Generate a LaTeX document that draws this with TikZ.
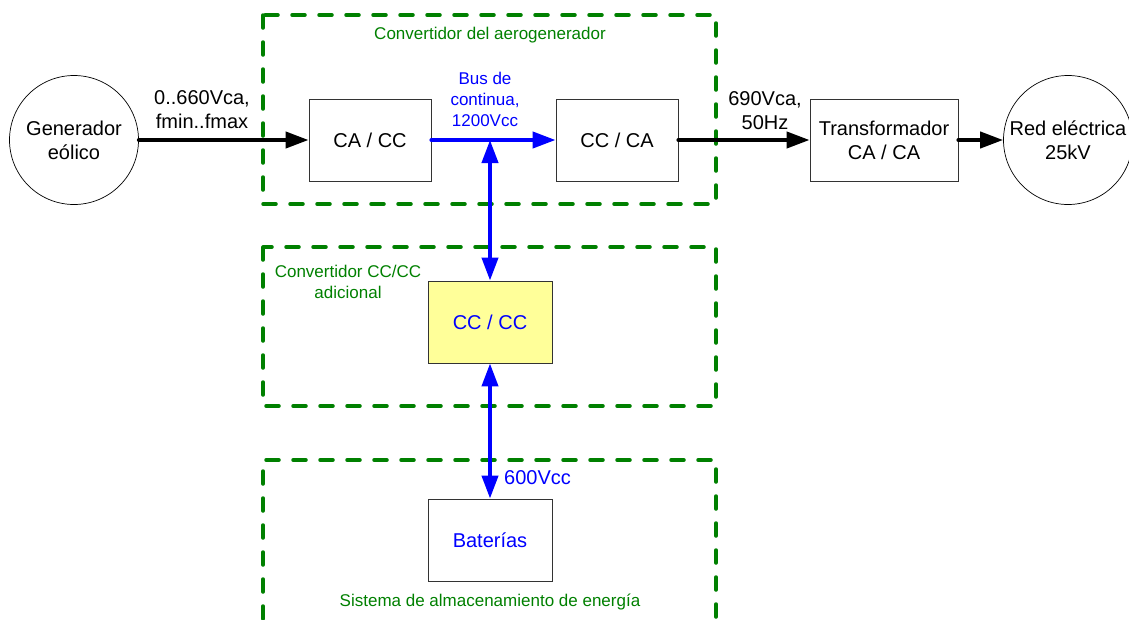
\documentclass[tikz,border=0pt]{standalone}
\usepackage{fontspec}
\setmainfont{Liberation Sans}
\usepackage{tikz}
\usetikzlibrary{arrows.meta,positioning}
\definecolor{grupo}{RGB}{0,128,0}
\definecolor{amarillo}{RGB}{255,255,153}

\begin{document}
\begin{tikzpicture}[x=1pt,y=-1pt,line cap=round,
  every node/.style={font=\fontsize{20}{24}\selectfont,align=center},
  bloque/.style={draw=black!80,line width=0.8pt,minimum width=122pt,minimum height=82pt,inner sep=0pt},
  fuente/.style={draw,circle,line width=0.7pt,minimum size=129pt,inner sep=0pt},
  zona/.style={draw=grupo,line width=3.5pt,dash pattern=on 13pt off 14pt},
  zonatxt/.style={text=grupo,font=\fontsize{17}{21}\selectfont},
  flujo/.style={line width=4pt,-{Triangle[length=23pt,width=16pt]}},
  bus/.style={line width=4pt,blue,{Triangle[length=23pt,width=16pt]}-{Triangle[length=23pt,width=16pt]}}]
  \useasboundingbox (0,0) rectangle (1129,619);
  % zonas
  \draw[zona] (263,15) rectangle (716,204);
  \draw[zona] (263,247) rectangle (716,406);
  \draw[zona] (263,619) -- (263,460) -- (716,460) -- (716,619);
  \node[zonatxt] (tconv) at (490,35) {Convertidor del aerogenerador};
  \node[zonatxt] (tdcdc) at (348,282) {Convertidor CC/CC\\adicional};
  \node[zonatxt] (talm) at (490,602) {Sistema de almacenamiento de energía};
  % bloques
  \node[fuente] (gen) at (74,140) {Generador\\eólico};
  \node[bloque] (cacc) at (370,140) {CA / CC};
  \node[bloque] (ccca) at (617,140) {CC / CA};
  \node[bloque,minimum width=148pt] (trafo) at (884,140) {Transformador\\CA / CA};
  \node[fuente] (red) at (1068,140) {Red eléctrica\\25kV};
  \node[bloque,fill=amarillo,text=blue,minimum width=124pt] (cccc) at (490,322) {CC / CC};
  \node[bloque,text=blue,minimum width=124pt] (bat) at (490,540) {Baterías};
  % conexiones
  \draw[flujo] (gen) -- (cacc);
  \draw[flujo,blue] (cacc) -- (ccca);
  \draw[flujo] (ccca) -- (trafo);
  \draw[flujo] (trafo) -- (red);
  \coordinate (nudo) at (cccc.north |- cacc.east);
  \draw[bus] (nudo) -- (cccc.north);
  \draw[bus] (cccc.south) -- (bat.north);
  % etiquetas
  \node (tent) at (202,110) {0..660Vca,\\fmin..fmax};
  \node[text=blue,font=\fontsize{17}{21}\selectfont] (tbus) at (485,99) {Bus de\\continua,\\1200Vcc};
  \node (tsal) at (765,111) {690Vca,\\50Hz};
  \node[text=blue,anchor=west,inner sep=0pt] (tbat) at (504,478) {600Vcc};
\end{tikzpicture}
\end{document}
